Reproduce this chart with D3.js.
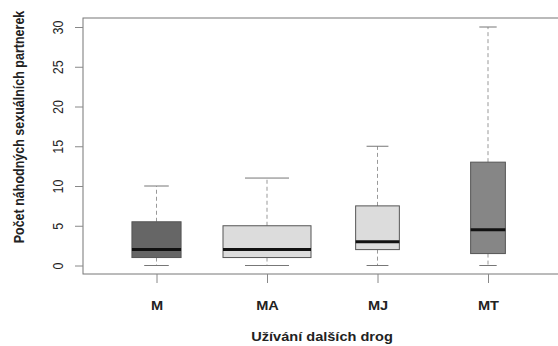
<!DOCTYPE html>
<html><head><meta charset="utf-8">
<script src="https://cdn.jsdelivr.net/npm/d3@7"></script>
<style>body{margin:0;background:#fff}svg{display:block}text{font-family:"Liberation Sans",Arial,sans-serif}</style>
</head><body>
<svg id="c" width="558" height="346"></svg>
<script>
const categories = ["M", "MA", "MJ", "MT"];
const lowerWhisker = [0, 0, 0, 0];
const q1 = [1, 1, 2, 1.5];
const median = [2, 2, 3, 4.5];
const q3 = [5.5, 5, 7.5, 13];
const upperWhisker = [10, 11, 15, 30];
const groupSize = [24, 77, 19, 12];
const fills = ["#666666", "#dcdcdc", "#dcdcdc", "#868686"];
const yTicks = [0, 5, 10, 15, 20, 25, 30];
const yLabel = "Počet náhodných sexuálních partnerek";
const xLabel = "Užívání dalších drog";

const svg = d3.select("#c");
const frame = {left: 83, top: 18, right: 562, bottom: 274};
const y = d3.scaleLinear().domain([0, 30]).range([265.5, 27]);
const x = d3.scalePoint().domain(categories).range([156.5, 488]).padding(0);
const w = d3.scaleSqrt().domain([0, 77]).range([0, 88]);
const stretch = 1.12;

const data = categories.map((c, i) => ({c, lo: lowerWhisker[i], q1: q1[i], med: median[i], q3: q3[i], hi: upperWhisker[i], n: groupSize[i], fill: fills[i]}));

// frame
svg.append("rect").attr("x", frame.left).attr("y", frame.top)
  .attr("width", frame.right - frame.left).attr("height", frame.bottom - frame.top)
  .attr("fill", "none").attr("stroke", "#777").attr("stroke-width", 1);

const g = svg.append("g");
data.forEach(d => {
  const cx = x(d.c), bw = w(d.n), cw = bw / 2;
  g.append("line").attr("x1", cx).attr("x2", cx).attr("y1", y(d.q3)).attr("y2", y(d.hi))
    .attr("stroke", "#999").attr("stroke-dasharray", "4,3");
  g.append("line").attr("x1", cx).attr("x2", cx).attr("y1", y(d.q1)).attr("y2", y(d.lo))
    .attr("stroke", "#999").attr("stroke-dasharray", "4,3");
  g.append("line").attr("x1", cx - cw / 2).attr("x2", cx + cw / 2).attr("y1", y(d.hi)).attr("y2", y(d.hi))
    .attr("stroke", "#777").attr("stroke-width", 1);
  g.append("line").attr("x1", cx - cw / 2).attr("x2", cx + cw / 2).attr("y1", y(d.lo)).attr("y2", y(d.lo))
    .attr("stroke", "#777").attr("stroke-width", 1);
  g.append("rect").attr("x", cx - bw / 2).attr("y", y(d.q3)).attr("width", bw).attr("height", y(d.q1) - y(d.q3))
    .attr("fill", d.fill).attr("stroke", "#555").attr("stroke-width", 1);
  g.append("line").attr("x1", cx - bw / 2).attr("x2", cx + bw / 2).attr("y1", y(d.med)).attr("y2", y(d.med))
    .attr("stroke", "#111").attr("stroke-width", 3);
});

// y axis
const ya = svg.append("g").attr("transform", `translate(${frame.left},0)`)
  .call(d3.axisLeft(y).tickValues(yTicks).tickSize(8).tickFormat(d3.format("d")));
ya.select(".domain").remove();
ya.selectAll(".tick line").attr("stroke", "#888");
ya.selectAll(".tick text").attr("x", null).attr("dy", null)
  .attr("transform", `translate(-20,0) rotate(-90) scale(1,${stretch})`)
  .attr("text-anchor", "middle").attr("font-size", 12.5).attr("fill", "#222");

// x axis
const xa = svg.append("g").attr("transform", `translate(0,${frame.bottom})`)
  .call(d3.axisBottom(x).tickSize(9).tickPadding(0));
xa.select(".domain").remove();
xa.selectAll(".tick line").attr("stroke", "#888");
xa.selectAll(".tick text").attr("y", null).attr("dy", null)
  .attr("transform", `translate(0,36) scale(${stretch},1)`)
  .attr("font-size", 13).attr("font-weight", "bold").attr("fill", "#222");

svg.append("text").attr("transform", `translate(24,127) rotate(-90) scale(1,${stretch})`)
  .attr("text-anchor", "middle").attr("font-size", 12.5).attr("font-weight", "bold").attr("fill", "#222")
  .text(yLabel);
svg.append("text").attr("transform", `translate(322,341) scale(${stretch},1)`)
  .attr("text-anchor", "middle").attr("font-size", 13).attr("font-weight", "bold").attr("fill", "#222")
  .text(xLabel);
</script>
</body></html>
